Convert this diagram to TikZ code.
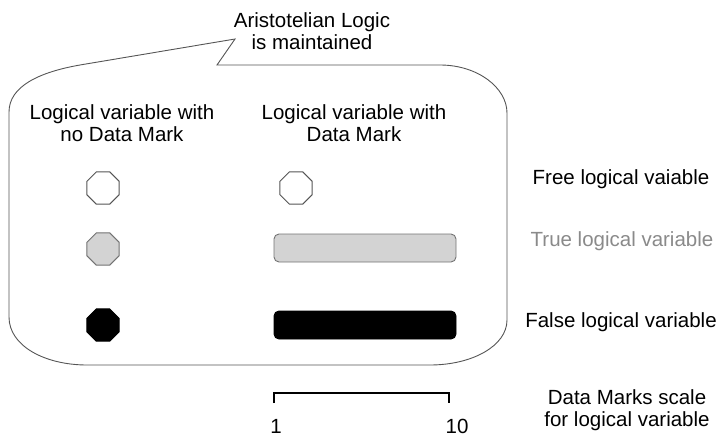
\documentclass[tikz,border=0pt]{standalone}
\usepackage{fontspec}
\setmainfont{Liberation Sans}
\usetikzlibrary{shapes.geometric}

\definecolor{outline}{HTML}{555555}
\definecolor{truegray}{HTML}{D3D3D3}
\definecolor{truetext}{HTML}{8A8A8A}

\tikzset{
  txt/.style={font=\fontsize{20.5}{21.5}\selectfont, align=center, inner sep=0pt},
  octo/.style={regular polygon, regular polygon sides=8, minimum size=35pt,
               inner sep=0pt, line width=0.9pt},
  freeocto/.style={octo, draw=outline, fill=white},
  trueocto/.style={octo, draw=gray!90!black, fill=truegray},
  falseocto/.style={octo, draw=black, fill=black},
  bar/.style={rectangle, rounded corners=5pt, minimum width=182pt,
              minimum height=28pt, inner sep=0pt, line width=0.9pt},
  truebar/.style={bar, draw=gray!90!black, fill=truegray},
  falsebar/.style={bar, draw=black, fill=black},
  bubble/.style={draw=outline, line width=0.9pt},
  scalebar/.style={draw=black, line width=2.6pt}
}

\begin{document}
\begin{tikzpicture}[x=1pt, y=-1pt]
  \useasboundingbox (0,0) rectangle (718,436);

  % speech bubble with its tail pointing up to the caption
  \draw[bubble]
    (80,65) -- (235,39) -- (217,65) -- (440,65)
    .. controls (478,65) and (507,88) .. (507,113)
    -- (507,320)
    .. controls (507,346) and (472,365) .. (430,365)
    -- (87,365)
    .. controls (45,365) and (9,346) .. (9,317)
    -- (9,112)
    .. controls (9,86) and (40,72) .. (80,65);

  % caption above the bubble
  \node[txt] (caption) at (312,31) {Aristotelian Logic\\is maintained};

  % column headings
  \node[txt] (headleft)  at (122,123) {Logical variable with\\no Data Mark};
  \node[txt] (headright) at (354,123) {Logical variable with\\Data Mark};

  % free variable
  \node[freeocto] (freeL) at (103,188) {};
  \node[freeocto] (freeR) at (296,188) {};
  \node[txt] (freelbl) at (621,179) {Free logical vaiable};

  % true variable
  \node[trueocto] (trueL) at (103,249) {};
  \node[truebar]  (trueR) at (365,248) {};
  \node[txt, text=truetext] (truelbl) at (622,241) {True logical variable};

  % false variable
  \node[falseocto] (falseL) at (103,325) {};
  \node[falsebar]  (falseR) at (365,325) {};
  \node[txt] (falselbl) at (621,322) {False logical variable};

  % Data Marks scale
  \coordinate (s1a) at (274,403);
  \coordinate (s1b) at (274,393);
  \coordinate (s2b) at (449,393);
  \coordinate (s2a) at (449,403);
  \draw[scalebar, line cap=butt, line join=miter] (s1a) -- (s1b) -- (s2b) -- (s2a);
  \node[txt, anchor=base] (one) at (276,433) {1};
  \node[txt, anchor=base] (ten) at (457,433) {10};
  \node[txt] (scalelbl) at (627,410) {Data Marks scale\\for logical variable};
\end{tikzpicture}
\end{document}
